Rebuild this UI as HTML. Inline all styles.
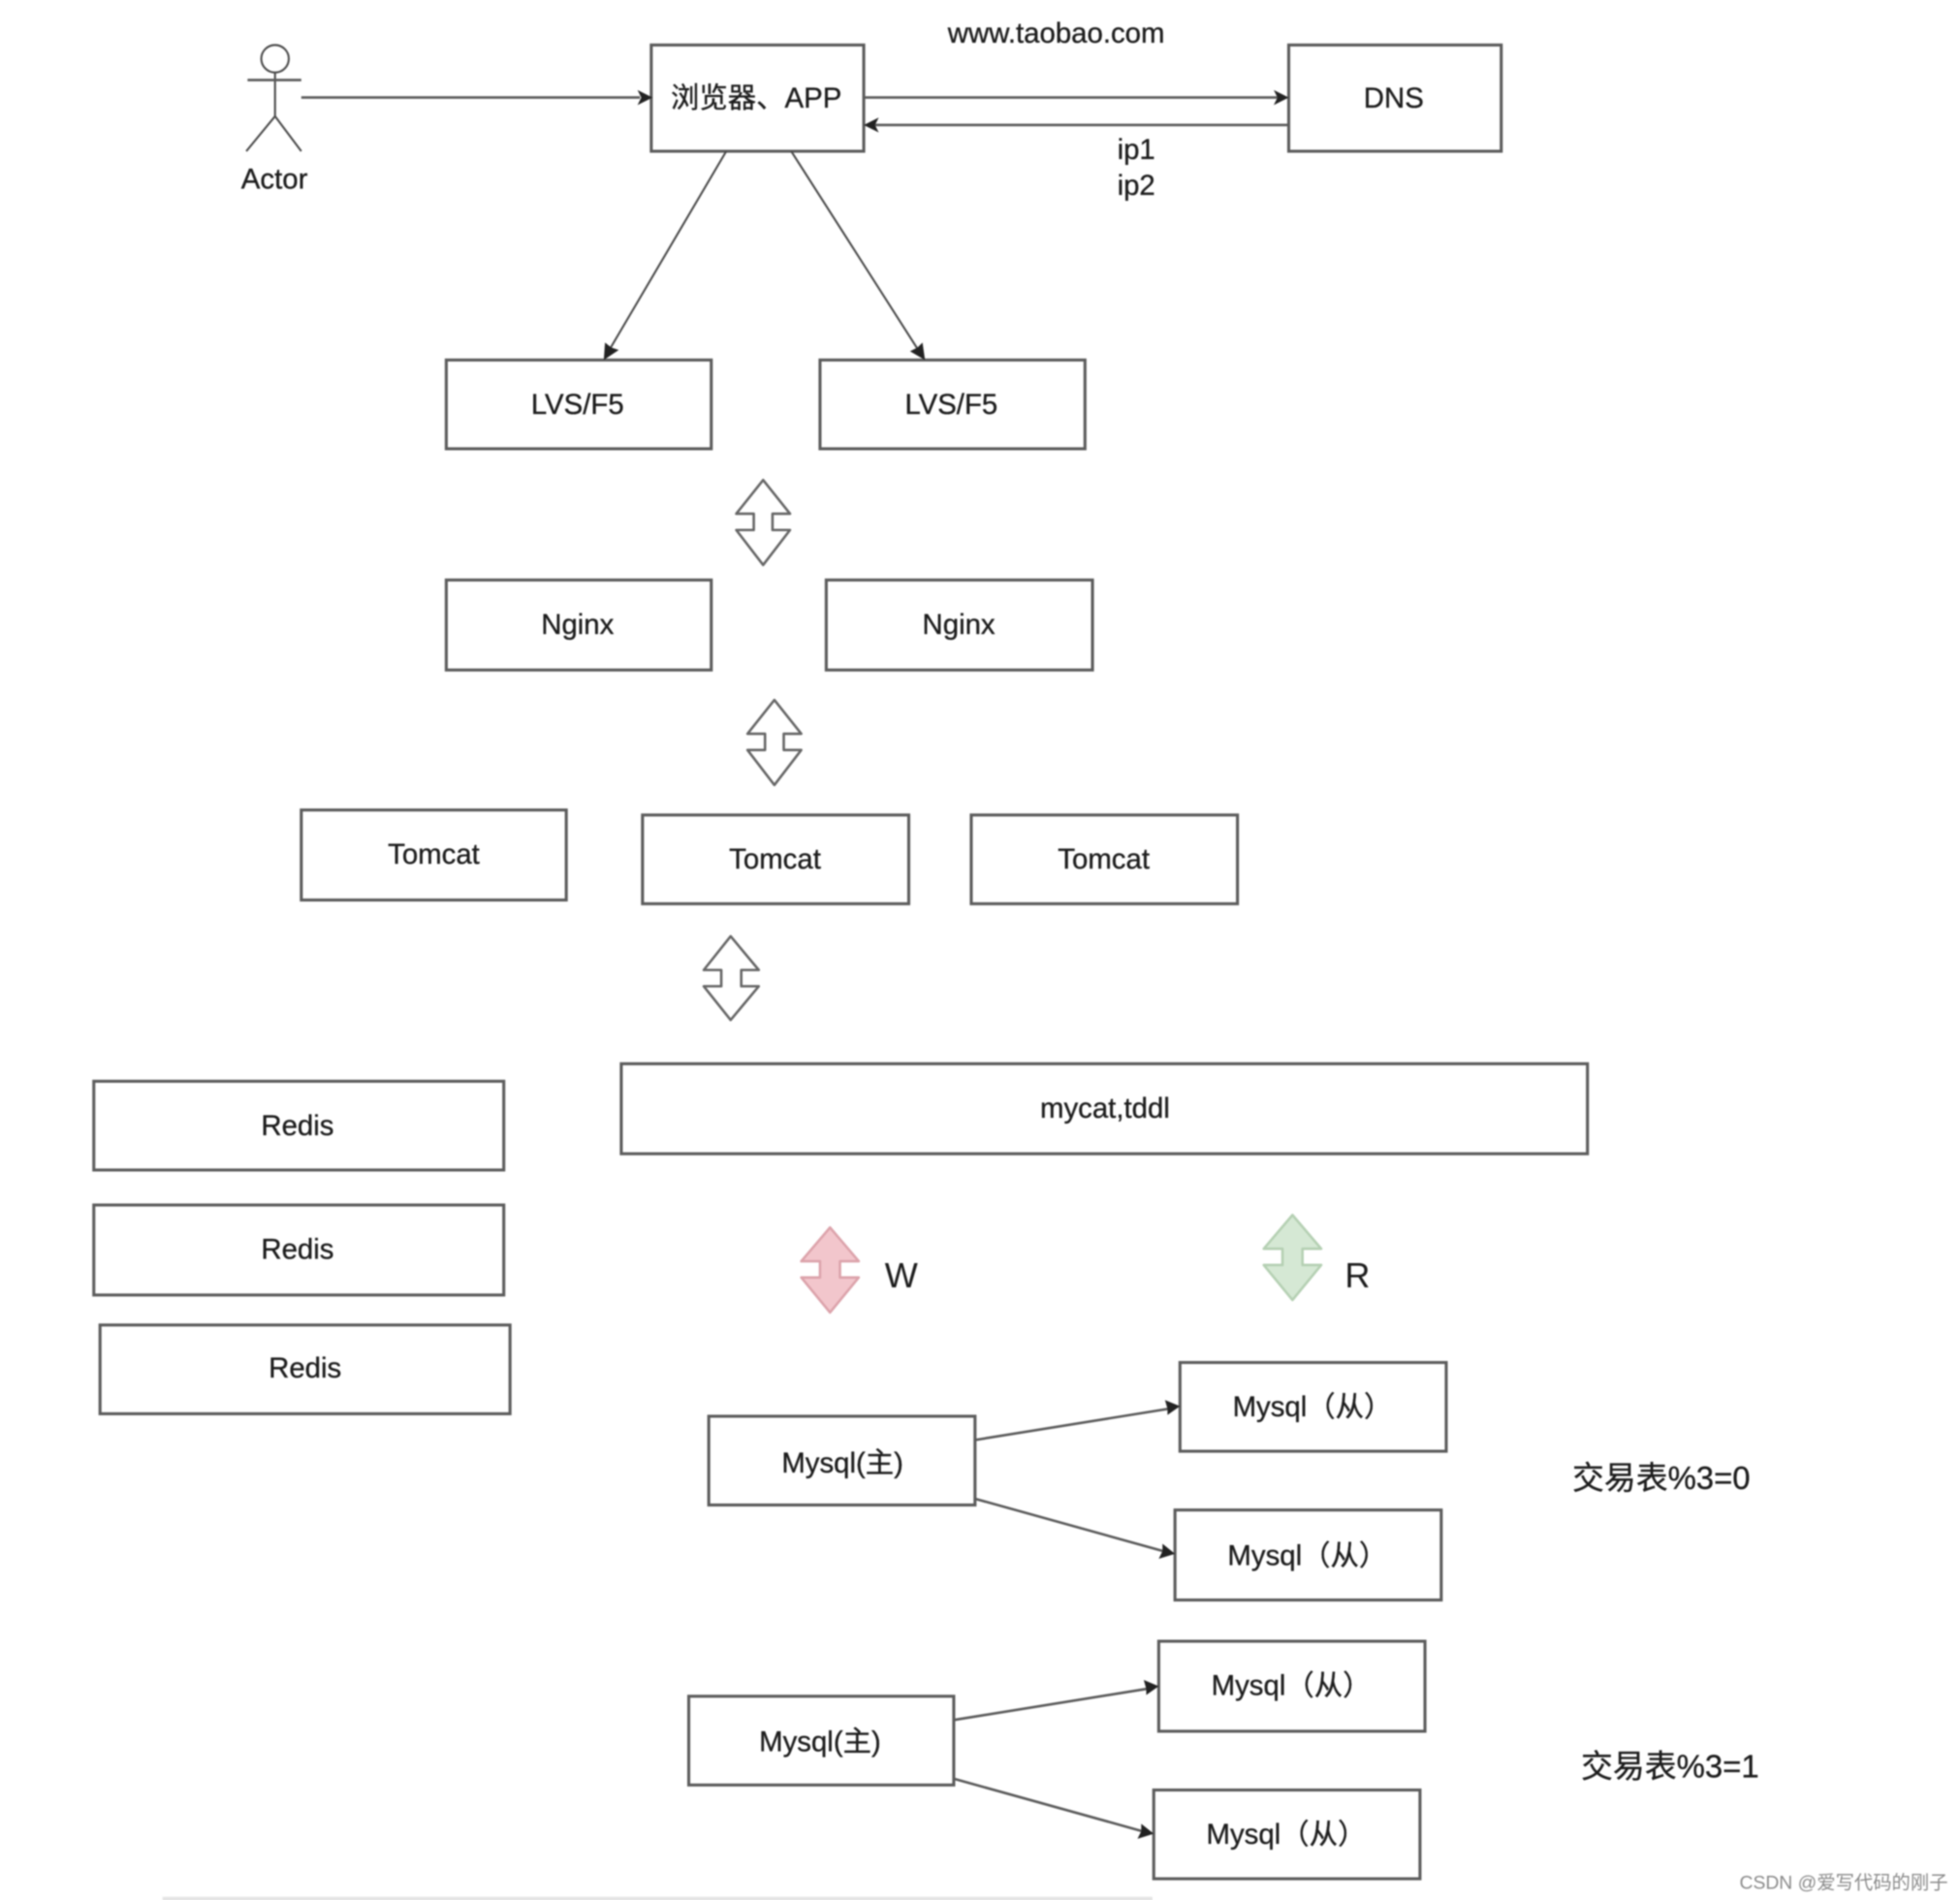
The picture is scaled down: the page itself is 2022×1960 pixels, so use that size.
<!DOCTYPE html>
<html>
<head>
<meta charset="utf-8">
<style>
html,body{margin:0;padding:0;background:#fff;width:2022px;height:1960px;overflow:hidden}
svg{display:block;position:absolute;left:0;top:0}
.d{filter:blur(0.6px)}
rect{fill:#fff;stroke:#5c5c5c;stroke-width:2.4}
line,.s{stroke:#4a4a4a;stroke-width:1.6;fill:none}
.h{stroke:#5a5a5a;stroke-width:2}
.a{fill:#222;stroke:none}
.ar{fill:#fff;stroke:#666;stroke-width:2;stroke-linejoin:round}
text{font-family:"Liberation Sans","Noto Sans CJK SC",sans-serif;font-size:22.8px;fill:#1c1c1c;stroke:#1c1c1c;stroke-width:0.25;text-anchor:middle}
</style>
</head>
<body>
<svg width="2022" height="1960" viewBox="0 0 1568 1520" xmlns="http://www.w3.org/2000/svg">
<g class="d">
<!-- actor -->
<circle cx="220" cy="47" r="11" class="s"/>
<line x1="220" y1="58" x2="220" y2="93"/>
<line x1="198" y1="64" x2="241" y2="64" class="h"/>
<line x1="220" y1="93" x2="197" y2="121"/>
<line x1="220" y1="93" x2="241" y2="121"/>
<text x="219.500" y="151">Actor</text>

<!-- boxes -->
<rect x="521" y="36" width="170" height="85"/>
<rect x="1031" y="36" width="170" height="85"/>
<rect x="357" y="288" width="212" height="71"/>
<rect x="656" y="288" width="212" height="71"/>
<rect x="357" y="464" width="212" height="72"/>
<rect x="661" y="464" width="213" height="72"/>
<rect x="241" y="648" width="212" height="72"/>
<rect x="514" y="652" width="213" height="71"/>
<rect x="777" y="652" width="213" height="71"/>
<rect x="497" y="851" width="773" height="72"/>
<rect x="75" y="865" width="328" height="71"/>
<rect x="75" y="964" width="328" height="72"/>
<rect x="80" y="1060" width="328" height="71"/>
<rect x="567" y="1133" width="213" height="71"/>
<rect x="551" y="1357" width="212" height="71"/>
<rect x="944" y="1090" width="213" height="71"/>
<rect x="940" y="1208" width="213" height="72"/>
<rect x="927" y="1313" width="213" height="72"/>
<rect x="923" y="1432" width="213" height="71"/>

<!-- connectors -->
<line x1="241" y1="78" x2="512" y2="78" class="h"/>
<polygon class="a" points="522,78 510,72 513,78 510,84"/>
<line x1="691" y1="78" x2="1022" y2="78" class="h"/>
<polygon class="a" points="1031,78 1019,72 1022,78 1019,84"/>
<line x1="1031" y1="100" x2="700" y2="100" class="h"/>
<polygon class="a" points="691,100 703,94 700,100 703,106"/>
<line x1="581" y1="121" x2="488" y2="279"/>
<polygon class="a" points="483,288 484,274 489,278 495,280"/>
<line x1="633" y1="121" x2="734" y2="279"/>
<polygon class="a" points="740,288 728,281 734,278 738,274"/>
<line x1="780" y1="1152" x2="935" y2="1127" class="h"/>
<polygon class="a" points="944,1125 932,1120 934,1127 934,1132"/>
<line x1="780" y1="1199" x2="931" y2="1241" class="h"/>
<polygon class="a" points="940,1243 930,1235 930,1241 927,1247"/>
<line x1="763" y1="1376" x2="918" y2="1351" class="h"/>
<polygon class="a" points="927,1349 915,1344 917,1351 917,1356"/>
<line x1="763" y1="1423" x2="914" y2="1465" class="h"/>
<polygon class="a" points="923,1467 913,1459 913,1465 910,1471"/>

<!-- double arrows -->
<polygon class="ar" points="610.500,384 632,411 618,411 618,424 632,424 610.500,452 589,424 603,424 603,411 589,411"/>
<polygon class="ar" points="619.500,560 641,587 627,587 627,600 641,600 619.500,628 598,600 612,600 612,587 598,587"/>
<polygon class="ar" points="584.500,749 607,776 593,776 593,789 607,789 584.500,816 563,789 577,789 577,776 563,776"/>
<polygon class="ar" style="fill:#f2c6cc;stroke:#dca3ab" points="664,982 687,1009 672,1009 672,1022 687,1022 664,1050 641,1022 656,1022 656,1009 641,1009"/>
<polygon class="ar" style="fill:#d5e8d4;stroke:#b5d0b3" points="1034,972 1057,999 1042,999 1042,1012 1057,1012 1034,1040 1011,1012 1026,1012 1026,999 1011,999"/>

<!-- labels -->
<text x="605" y="86">浏览器、APP</text>
<text x="1115" y="86">DNS</text>
<text x="845" y="34">www.taobao.com</text>
<text x="909" y="127">ip1</text>
<text x="909" y="156">ip2</text>
<text x="462" y="331">LVS/F5</text>
<text x="761" y="331">LVS/F5</text>
<text x="462" y="507">Nginx</text>
<text x="767" y="507">Nginx</text>
<text x="347" y="691">Tomcat</text>
<text x="620" y="695">Tomcat</text>
<text x="883" y="695">Tomcat</text>
<text x="884" y="894">mycat,tddl</text>
<text x="238" y="908">Redis</text>
<text x="238" y="1007">Redis</text>
<text x="244" y="1102">Redis</text>
<text x="721" y="1030" style="font-size:28px;stroke:none">W</text>
<text x="1086" y="1030" style="font-size:28px;stroke:none">R</text>
<text x="674" y="1178">Mysql(主)</text>
<text x="656" y="1401">Mysql(主)</text>
<text x="1050" y="1133">Mysql（从）</text>
<text x="1046" y="1252">Mysql（从）</text>
<text x="1033" y="1356">Mysql（从）</text>
<text x="1029" y="1475">Mysql（从）</text>
<text x="1329" y="1191" style="font-size:25.5px">交易表%3=0</text>
<text x="1336" y="1422" style="font-size:25.5px">交易表%3=1</text>
<text x="1475" y="1511" style="font-size:15px;fill:#8a8a8a;stroke:none">CSDN @爱写代码的刚子</text>
<line x1="130" y1="1519" x2="922" y2="1519" style="stroke:#e4e4e4;stroke-width:3"/>
</g>
</svg>
</body>
</html>
